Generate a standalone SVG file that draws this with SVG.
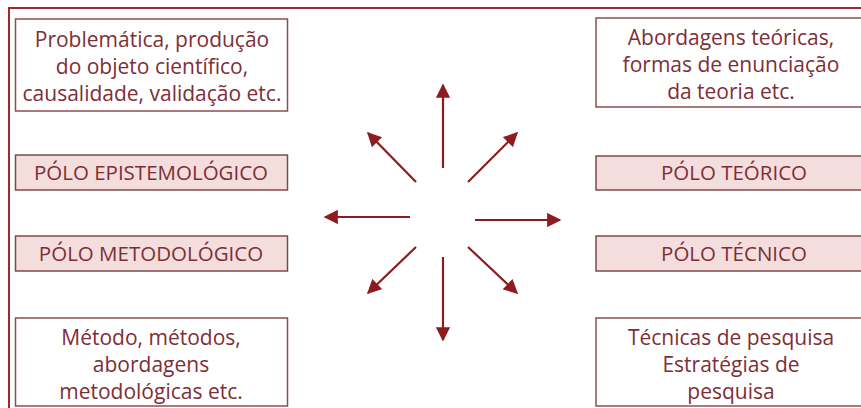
<svg xmlns="http://www.w3.org/2000/svg" width="861" height="408" viewBox="0 0 861 408">
<style>
.box{fill:#ffffff;stroke:#8a4d50;stroke-width:1.5}
.pole{fill:#f3dddd;stroke:#7d4a4c;stroke-width:1.5}
.t{font-family:"Open Sans","Noto Sans",sans-serif;font-size:21px;fill:#7e2e36;text-anchor:middle}
.p{font-family:"Open Sans","Noto Sans",sans-serif;font-size:20.5px;fill:#7e2e36;text-anchor:middle}
.arr{stroke:#8e1c1f;stroke-width:2.2;fill:none;marker-end:url(#ah)}
</style>
<defs>
<marker id="ah" viewBox="0 0 10 10" refX="9" refY="5" markerWidth="7" markerHeight="6.5" markerUnits="strokeWidth" orient="auto">
<path d="M0,0 L10,5 L0,10 Z" fill="#8e1c1f"/>
</marker>
</defs>
<rect x="0" y="0" width="861" height="408" fill="#ffffff"/>
<g id="frame">
<line x1="8" y1="8" x2="861" y2="8" stroke="#a3282c" stroke-width="2"/>
<line x1="9" y1="8" x2="9" y2="408" stroke="#a3282c" stroke-width="2"/>
</g>
<g id="epist-desc">
<rect class="box" x="15.5" y="19" width="272" height="92"/>
<text class="t" x="152" y="47">Problemática, produção</text>
<text class="t" x="152" y="74">do objeto científico,</text>
<text class="t" x="152" y="101">causalidade, validação etc.</text>
</g>
<g id="teor-desc">
<rect class="box" x="596" y="18" width="270" height="89"/>
<text class="t" x="731" y="45">Abordagens teóricas,</text>
<text class="t" x="731" y="72">formas de enunciação</text>
<text class="t" x="731" y="99">da teoria etc.</text>
</g>
<g id="polo-epist">
<rect class="pole" x="15.5" y="155" width="272" height="35"/>
<text class="p" x="151" y="180">PÓLO EPISTEMOLÓGICO</text>
</g>
<g id="polo-teor">
<rect class="pole" x="596" y="156" width="270" height="34"/>
<text class="p" x="734" y="180">PÓLO TEÓRICO</text>
</g>
<g id="polo-metod">
<rect class="pole" x="15.5" y="236" width="272" height="35"/>
<text class="p" x="151" y="261">PÓLO METODOLÓGICO</text>
</g>
<g id="polo-tecn">
<rect class="pole" x="596" y="236" width="270" height="35"/>
<text class="p" x="734" y="261">PÓLO TÉCNICO</text>
</g>
<g id="metod-desc">
<rect class="box" x="15.5" y="318" width="272" height="88"/>
<text class="t" x="151" y="345">Método, métodos,</text>
<text class="t" x="151" y="372">abordagens</text>
<text class="t" x="151" y="399">metodológicas etc.</text>
</g>
<g id="tecn-desc">
<rect class="box" x="596" y="318" width="270" height="88"/>
<text class="t" x="731" y="345">Técnicas de pesquisa</text>
<text class="t" x="731" y="372">Estratégias de</text>
<text class="t" x="731" y="399">pesquisa</text>
</g>
<g id="connectors">
<line class="arr" x1="443" y1="168" x2="443" y2="85"/>
<line class="arr" x1="443" y1="257" x2="443" y2="340"/>
<line class="arr" x1="410" y1="217" x2="325" y2="217"/>
<line class="arr" x1="475" y1="220" x2="560" y2="220"/>
<line class="arr" x1="416" y1="182" x2="368" y2="133"/>
<line class="arr" x1="468" y1="182" x2="517" y2="133"/>
<line class="arr" x1="416" y1="247" x2="368" y2="293"/>
<line class="arr" x1="468" y1="247" x2="517" y2="293"/>
</g>
</svg>
